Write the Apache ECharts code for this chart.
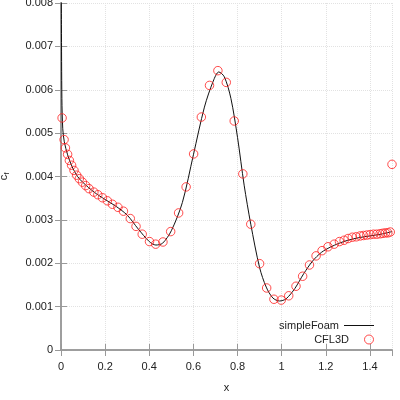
<!DOCTYPE html>
<html>
<head>
<meta charset="utf-8">
<script src="https://cdn.jsdelivr.net/npm/echarts@6/dist/echarts.min.js"></script>
<style>
  html, body { margin: 0; padding: 0; background: #fff; }
  #chart { width: 400px; height: 400px; }
</style>
</head>
<body>
<div id="chart"></div>
<script>
// simpleFoam skin friction (solid line)
const foamX = [0.0005, 0.002, 0.004, 0.008, 0.015, 0.03, 0.05, 0.075, 0.1, 0.15, 0.2, 0.25, 0.3, 0.35, 0.4, 0.43, 0.46, 0.5, 0.55, 0.6, 0.65, 0.69, 0.715, 0.74, 0.77, 0.8, 0.83, 0.86, 0.9, 0.93, 0.96, 0.99, 1.02, 1.06, 1.1, 1.14, 1.18, 1.22, 1.26, 1.3, 1.35, 1.4, 1.45, 1.5];
const foamCf = [0.0095, 0.0075, 0.0058, 0.0051, 0.0048, 0.0045, 0.00423, 0.0040, 0.00386, 0.00364, 0.00347, 0.00331, 0.00311, 0.00279, 0.0025, 0.00242, 0.00246, 0.00275, 0.0034, 0.0045, 0.0056, 0.0062, 0.00641, 0.0063, 0.0058, 0.0049, 0.0038, 0.0029, 0.0019, 0.00145, 0.0012, 0.00113, 0.00118, 0.00142, 0.00176, 0.00205, 0.00225, 0.00237, 0.00246, 0.00253, 0.00259, 0.00263, 0.00267, 0.00273];

// CFL3D skin friction (circles)
const cflX = [0.005, 0.014, 0.020, 0.030, 0.038, 0.048, 0.059, 0.071, 0.083, 0.097, 0.112, 0.127, 0.149, 0.167, 0.188, 0.210, 0.233, 0.258, 0.283, 0.314, 0.340, 0.368, 0.401, 0.429, 0.462, 0.497, 0.533, 0.567, 0.601, 0.636, 0.673, 0.711, 0.749, 0.785, 0.824, 0.860, 0.900, 0.932, 0.965, 0.998, 1.032, 1.065, 1.095, 1.126, 1.156, 1.183, 1.210, 1.238, 1.262, 1.283, 1.301, 1.320, 1.338, 1.356, 1.371, 1.386, 1.401, 1.416, 1.431, 1.446, 1.458, 1.470, 1.481, 1.492, 1.500];
const cflCf = [0.00535, 0.00485, 0.00466, 0.00451, 0.00437, 0.00426, 0.00414, 0.00403, 0.00395, 0.00387, 0.00379, 0.00372, 0.00364, 0.00358, 0.00351, 0.00344, 0.00336, 0.00329, 0.0032, 0.00303, 0.00285, 0.00267, 0.0025, 0.00244, 0.00249, 0.00273, 0.00316, 0.00376, 0.00452, 0.00537, 0.0061, 0.00644, 0.00617, 0.00528, 0.00406, 0.0029, 0.00199, 0.00143, 0.00117, 0.00115, 0.00125, 0.00147, 0.0017, 0.00196, 0.00217, 0.00229, 0.00238, 0.00244, 0.0025, 0.00253, 0.00257, 0.0026, 0.00261, 0.00263, 0.00264, 0.00265, 0.00266, 0.00267, 0.00267, 0.00268, 0.00269, 0.0027, 0.0027, 0.00272, 0.00428];

const font = 'Liberation Sans';
const axisGray = '#999';
const red = '#ff1f1f';

const chart = echarts.init(document.getElementById('chart'));

function trimNum(v, d) {
  if (Math.abs(v) < 1e-12) return '0';
  return parseFloat(v.toFixed(d)).toString();
}

const legendText = { fontFamily: font, fontSize: 11, color: '#222' };

const option = {
  animation: false,
  textStyle: { fontFamily: font, color: '#222' },
  grid: { left: 61, right: 8, top: 3, bottom: 50, outerBoundsMode: 'none', containLabel: false },
  legend: [{
    orient: 'vertical',
    right: 21,
    top: 315,
    align: 'right',
    icon: 'rect',
    itemWidth: 30,
    itemHeight: 1,
    textStyle: legendText,
    data: ['simpleFoam']
  }, {
    orient: 'vertical',
    right: 21,
    top: 329,
    align: 'right',
    icon: 'circle',
    itemWidth: 30,
    itemHeight: 9,
    itemStyle: { color: 'transparent', borderColor: red, borderWidth: 1 },
    textStyle: legendText,
    data: ['CFL3D']
  }],
  xAxis: [{
    type: 'value',
    min: 0,
    max: 1.5,
    interval: 0.2,
    name: 'x',
    nameLocation: 'middle',
    nameGap: 32,
    nameTextStyle: { fontFamily: font, fontSize: 11, color: '#222' },
    axisLine: { show: true, lineStyle: { color: axisGray, width: 1.5 } },
    axisTick: { show: true, inside: true, length: 6, lineStyle: { color: axisGray } },
    axisLabel: {
      fontSize: 11, color: '#222', margin: 11, showMaxLabel: false,
      formatter: v => trimNum(v, 1)
    },
    splitLine: { show: true, lineStyle: { color: '#e2e2e2', type: 'dotted' } }
  }, {
    type: 'value',
    position: 'top',
    min: 0,
    max: 1.5,
    interval: 0.2,
    axisLine: { show: true, lineStyle: { color: axisGray, width: 1.5 } },
    axisTick: { show: true, inside: true, length: 6, lineStyle: { color: axisGray } },
    axisLabel: { show: false },
    splitLine: { show: false }
  }],
  yAxis: [{
    type: 'value',
    min: 0,
    max: 0.008,
    interval: 0.001,
    name: '{c|c}{f|f}',
    nameLocation: 'middle',
    nameRotate: 90,
    nameGap: 50,
    nameTextStyle: {
      rich: {
        c: { fontFamily: font, fontSize: 11, color: '#222' },
        f: { fontFamily: font, fontSize: 8, color: '#222', padding: [6, 0, 0, 0] }
      }
    },
    axisLine: { show: true, lineStyle: { color: axisGray, width: 1.5 } },
    axisTick: { show: true, inside: true, length: 6, lineStyle: { color: axisGray } },
    axisLabel: {
      fontSize: 11, color: '#222', margin: 8,
      formatter: v => v === 0 ? '0' : v.toFixed(3)
    },
    splitLine: { show: true, lineStyle: { color: '#e2e2e2', type: 'dotted' } }
  }, {
    type: 'value',
    position: 'right',
    min: 0,
    max: 0.008,
    interval: 0.001,
    axisLine: { show: true, lineStyle: { color: axisGray, width: 1.5 } },
    axisTick: { show: true, inside: true, length: 6, lineStyle: { color: axisGray } },
    axisLabel: { show: false },
    splitLine: { show: false }
  }],
  series: [{
    name: 'simpleFoam',
    type: 'line',
    data: foamX.map((x, i) => [x, foamCf[i]]),
    showSymbol: false,
    symbol: 'none',
    smooth: 0.3,
    clip: true,
    lineStyle: { color: '#111', width: 1 },
    itemStyle: { color: '#111' },
    z: 3
  }, {
    name: 'CFL3D',
    type: 'scatter',
    data: cflX.map((x, i) => [x, cflCf[i]]),
    symbol: 'circle',
    symbolSize: 8.5,
    itemStyle: { color: 'transparent', borderColor: red, borderWidth: 1 },
    clip: false,
    z: 4
  }]
};

chart.setOption(option);
</script>
</body>
</html>
